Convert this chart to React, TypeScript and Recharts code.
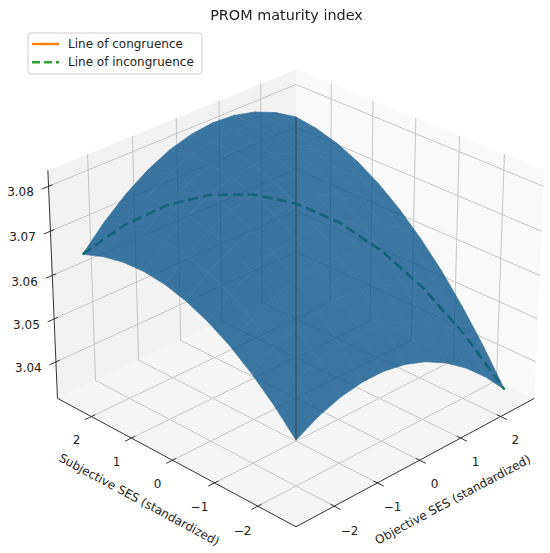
import { ScatterChart, Scatter, XAxis, YAxis } from 'recharts'

/* ── Data ── */

const TITLE = 'PROM maturity index'
const X_LABEL = 'Objective SES (standardized)'
const Y_LABEL = 'Subjective SES (standardized)'

const SES_TICKS = [-2, -1, 0, 1, 2]
const INDEX_TICKS = [3.04, 3.05, 3.06, 3.07, 3.08]

// sample positions of the response surface, same for both SES axes
const SES_STEPS = [-2.5, -2, -1.5, -1, -0.5, 0, 0.5, 1, 1.5, 2, 2.5]

// predicted PROM maturity index, rows = subjective SES, cols = objective SES
const PROM_INDEX = [
  [3.0470, 3.0497, 3.0515, 3.0524, 3.0524, 3.0515, 3.0497, 3.0470, 3.0434, 3.0389, 3.0335],
  [3.0523, 3.0552, 3.0573, 3.0584, 3.0587, 3.0580, 3.0564, 3.0540, 3.0506, 3.0464, 3.0412],
  [3.0568, 3.0600, 3.0623, 3.0637, 3.0641, 3.0637, 3.0624, 3.0602, 3.0571, 3.0530, 3.0481],
  [3.0606, 3.0640, 3.0665, 3.0681, 3.0689, 3.0687, 3.0676, 3.0656, 3.0627, 3.0590, 3.0543],
  [3.0635, 3.0672, 3.0699, 3.0718, 3.0728, 3.0728, 3.0720, 3.0702, 3.0676, 3.0641, 3.0596],
  [3.0657, 3.0696, 3.0726, 3.0747, 3.0759, 3.0762, 3.0756, 3.0741, 3.0717, 3.0684, 3.0642],
  [3.0671, 3.0712, 3.0745, 3.0768, 3.0782, 3.0788, 3.0784, 3.0772, 3.0750, 3.0719, 3.0680],
  [3.0677, 3.0721, 3.0756, 3.0781, 3.0798, 3.0806, 3.0805, 3.0795, 3.0775, 3.0747, 3.0710],
  [3.0675, 3.0721, 3.0758, 3.0787, 3.0806, 3.0816, 3.0817, 3.0809, 3.0793, 3.0767, 3.0732],
  [3.0665, 3.0714, 3.0754, 3.0784, 3.0806, 3.0818, 3.0822, 3.0817, 3.0802, 3.0779, 3.0746],
  [3.0648, 3.0699, 3.0741, 3.0774, 3.0798, 3.0813, 3.0819, 3.0816, 3.0804, 3.0783, 3.0753],
]

const LEGEND = [
  { name: 'Line of congruence', color: '#ff7f0e', dash: undefined as string | undefined },
  { name: 'Line of incongruence', color: '#2ca02c', dash: '8 4' },
]

/* ── 3D view ── */

const W = 550
const H = 553
const SES_LIM = 2.865 // half width of the drawn box, SES units
const INDEX_LIM = [3.0314, 3.0835]
const Z_ASPECT = 0.75
const ELEV = (28 * Math.PI) / 180
const SIN_E = Math.sin(ELEV)
const COS_E = Math.cos(ELEV)
const R2 = Math.SQRT1_2
const SCALE = 172
const PERSP = 0.056
const CX = 296
const CY = 286.6

type V3 = [number, number, number]

const zMid = (INDEX_LIM[0] + INDEX_LIM[1]) / 2
const zHalf = (INDEX_LIM[1] - INDEX_LIM[0]) / 2
const bx = (s: number) => s / SES_LIM
const bz = (z: number) => ((z - zMid) / zHalf) * Z_ASPECT
const TOP = Z_ASPECT
const BOT = -Z_ASPECT

// azimuth -135: camera sits at low objective / low subjective SES
function project([x, y, z]: V3) {
  const right = R2 * (x - y)
  const up = R2 * SIN_E * (x + y) + COS_E * z
  const depth = -R2 * COS_E * (x + y) + SIN_E * z
  const f = SCALE / (1 - PERSP * depth)
  return { u: CX + f * right, v: CY - f * up, depth }
}

const angleOf = (a: V3, b: V3) => {
  const p = project(a)
  const q = project(b)
  return (Math.atan2(q.v - p.v, q.u - p.u) * 180) / Math.PI
}

/* ── Shapes ── */

interface Shape {
  pts: V3[]
  closed?: boolean
  fill?: string
  stroke?: string
  width?: number
  dash?: string
}

const panes: Shape[] = [
  { pts: [[-1, 1, BOT], [1, 1, BOT], [1, 1, TOP], [-1, 1, TOP]], closed: true, fill: '#f2f2f2' },
  { pts: [[1, -1, BOT], [1, 1, BOT], [1, 1, TOP], [1, -1, TOP]], closed: true, fill: '#f9f9f9' },
  { pts: [[-1, -1, BOT], [1, -1, BOT], [1, 1, BOT], [-1, 1, BOT]], closed: true, fill: '#f5f5f5' },
]

const GRID = { stroke: '#c6c6c6', width: 1 }
const grid: Shape[] = [
  ...SES_TICKS.flatMap((t): Shape[] => [
    { pts: [[bx(t), 1, BOT], [bx(t), 1, TOP]], ...GRID },
    { pts: [[bx(t), -1, BOT], [bx(t), 1, BOT]], ...GRID },
    { pts: [[1, bx(t), BOT], [1, bx(t), TOP]], ...GRID },
    { pts: [[-1, bx(t), BOT], [1, bx(t), BOT]], ...GRID },
  ]),
  ...INDEX_TICKS.flatMap((t): Shape[] => [
    { pts: [[-1, 1, bz(t)], [1, 1, bz(t)]], ...GRID },
    { pts: [[1, -1, bz(t)], [1, 1, bz(t)]], ...GRID },
  ]),
]

const AX = { stroke: '#333', width: 1 }
const axes: Shape[] = [
  { pts: [[-1, 1, BOT], [-1, 1, TOP]], ...AX },
  { pts: [[-1, -1, BOT], [1, -1, BOT]], ...AX },
  { pts: [[-1, -1, BOT], [-1, 1, BOT]], ...AX },
  ...SES_TICKS.flatMap((t): Shape[] => [
    { pts: [[bx(t), -0.97, BOT], [bx(t), -1.05, BOT]], ...AX },
    { pts: [[-0.97, bx(t), BOT], [-1.05, bx(t), BOT]], ...AX },
  ]),
  ...INDEX_TICKS.map((t): Shape => ({ pts: [[-0.97, 1, bz(t)], [-1.05, 1, bz(t)]], ...AX })),
]

const n = SES_STEPS.length
const diagLines: Shape[] = [
  {
    pts: SES_STEPS.map((s, i): V3 => [bx(s), bx(s), bz(PROM_INDEX[i][i])]),
    stroke: LEGEND[0].color,
    width: 2,
  },
  {
    pts: SES_STEPS.map((s, i): V3 => [bx(s), -bx(s), bz(PROM_INDEX[n - 1 - i][i])]),
    stroke: LEGEND[1].color,
    width: 2.6,
    dash: '10 5',
  },
]

const SURF = '#0c578b'
const surface: Shape[] = (() => {
  const quads: { pts: V3[]; depth: number }[] = []
  for (let j = 0; j < n - 1; j++) {
    for (let i = 0; i < n - 1; i++) {
      const pts: V3[] = [
        [bx(SES_STEPS[i]), bx(SES_STEPS[j]), bz(PROM_INDEX[j][i])],
        [bx(SES_STEPS[i + 1]), bx(SES_STEPS[j]), bz(PROM_INDEX[j][i + 1])],
        [bx(SES_STEPS[i + 1]), bx(SES_STEPS[j + 1]), bz(PROM_INDEX[j + 1][i + 1])],
        [bx(SES_STEPS[i]), bx(SES_STEPS[j + 1]), bz(PROM_INDEX[j + 1][i])],
      ]
      const depth = pts.reduce((s, p) => s + project(p).depth, 0) / 4
      quads.push({ pts, depth })
    }
  }
  quads.sort((a, b) => a.depth - b.depth)
  return quads.map(q => ({ pts: q.pts, closed: true, fill: SURF, stroke: SURF, width: 0.7 }))
})()

const toData = (shapes: Shape[]) =>
  shapes.flatMap(s => s.pts.map(p => {
    const { u, v } = project(p)
    return { u, v }
  }))

const drawShapes = (shapes: Shape[], opacity = 1) => (props: any) => {
  const pts = props.points ?? []
  let k = 0
  return (
    <g opacity={opacity}>
      {shapes.map((s, i) => {
        const seg = pts.slice(k, k + s.pts.length)
        k += s.pts.length
        const d = seg.map((p: any) => `${p.x},${p.y}`).join(' ')
        return s.closed ? (
          <polygon key={i} points={d} fill={s.fill} stroke={s.stroke ?? 'none'} strokeWidth={s.width ?? 0} strokeLinejoin="round" />
        ) : (
          <polyline key={i} points={d} fill="none" stroke={s.stroke} strokeWidth={s.width ?? 1} strokeDasharray={s.dash} strokeLinejoin="round" />
        )
      })}
    </g>
  )
}

/* ── Labels ── */

const fmtSes = (t: number) => (t < 0 ? '\u2212' : '') + Math.abs(t)
const X_ANGLE = angleOf([-1, -1, BOT], [1, -1, BOT])
const Y_ANGLE = angleOf([-1, 1, BOT], [-1, -1, BOT])

const labelAt = (p: V3, text: string, kind: string) => {
  const { u, v } = project(p)
  return { u, v, text, kind }
}

const labels = [
  ...SES_TICKS.map(t => labelAt([bx(t), -1.12, -0.86], fmtSes(t), 'tick')),
  ...SES_TICKS.map(t => labelAt([-1.12, bx(t), -0.86], fmtSes(t), 'tick')),
  ...INDEX_TICKS.map(t => labelAt([-1.11, 1, bz(t)], t.toFixed(2), 'ztick')),
  labelAt([0, -1.263, -0.9], X_LABEL, 'xtitle'),
  labelAt([-1.263, 0, -0.9], Y_LABEL, 'ytitle'),
]

const FONT = '"DejaVu Sans", sans-serif'

const LabelShape = (p: any) => {
  const d = p.payload
  const rot = d.kind === 'xtitle' ? X_ANGLE : d.kind === 'ytitle' ? Y_ANGLE : 0
  return (
    <text
      x={p.cx}
      y={p.cy}
      textAnchor={d.kind === 'ztick' ? 'end' : 'middle'}
      dominantBaseline="central"
      fontSize={12}
      fontFamily={FONT}
      fill="#222"
      transform={rot ? `rotate(${rot} ${p.cx} ${p.cy})` : undefined}
    >
      {d.text}
    </text>
  )
}

const Nothing = () => <g />

function Legend3D() {
  return (
    <svg width={176} height={43} style={{ position: 'absolute', left: 27, top: 32 }}>
      <rect x={1} y={1} width={174} height={41} rx={3} fill="rgba(255,255,255,0.85)" stroke="#d0d0d0" />
      {LEGEND.map((l, i) => (
        <g key={l.name}>
          <line x1={5} x2={32} y1={12 + i * 18.3} y2={12 + i * 18.3} stroke={l.color} strokeWidth={2.4} strokeDasharray={l.dash} />
          <text x={41} y={12 + i * 18.3} dominantBaseline="central" fontSize={12} fontFamily={FONT} fill="#222">
            {l.name}
          </text>
        </g>
      ))}
    </svg>
  )
}

export default function App() {
  const layers: [string, Shape[], number][] = [
    ['panes', panes, 1],
    ['grid', grid, 1],
    ['axes', axes, 1],
    ['lines', diagLines, 1],
    ['surface', surface, 0.8],
  ]
  return (
    <div style={{ position: 'fixed', left: 0, top: 0, width: W, height: H, background: '#fff' }}>
      <ScatterChart width={W} height={H} margin={{ top: 0, right: 0, bottom: 0, left: 0 }}>
        <XAxis type="number" dataKey="u" domain={[0, W]} hide allowDataOverflow />
        <YAxis type="number" dataKey="v" domain={[0, H]} reversed hide allowDataOverflow />
        {layers.map(([name, shapes, op]) => (
          <Scatter
            key={name}
            name={name}
            data={toData(shapes)}
            line={drawShapes(shapes, op)}
            shape={Nothing}
            isAnimationActive={false}
          />
        ))}
        <Scatter name="labels" data={labels} shape={LabelShape} isAnimationActive={false} />
      </ScatterChart>
      <div
        style={{
          position: 'absolute', left: 0, width: 573, top: 8, textAlign: 'center',
          fontFamily: FONT, fontSize: 14.4, lineHeight: '14.4px', color: '#222',
        }}
      >
        {TITLE}
      </div>
      <Legend3D />
    </div>
  )
}
